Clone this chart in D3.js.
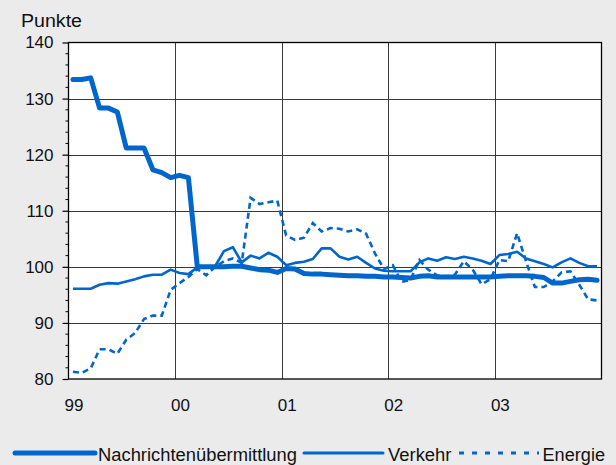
<!DOCTYPE html>
<html><head><meta charset="utf-8">
<script src="https://cdn.jsdelivr.net/npm/d3@7"></script>
<style>html,body{margin:0;padding:0;background:#ebebeb;}svg{display:block;}</style>
</head><body>
<svg id="c" width="616" height="465"></svg>
<script>
const yearLabels = ["99","00","01","02","03"];
const yTicks = [80,90,100,110,120,130,140];
const seriesNames = ["Nachrichtenübermittlung","Verkehr","Energie"];
const nachrichten = [133.4,133.4,133.7,128.3,128.3,127.6,121.2,121.2,121.2,117.3,116.8,115.9,116.3,115.9,
 100.0,100.0,100.0,100.0,100.1,100.1,99.8,99.5,99.4,99.0,99.7,99.6,98.8,98.7,98.7,98.6,
 98.5,98.4,98.4,98.3,98.3,98.2,98.2,98.1,98.0,98.3,98.4,98.2,98.2,98.2,98.2,98.2,98.2,98.2,98.3,98.4,98.4,98.4,98.3,
 98.1,97.1,97.1,97.4,97.7,97.8,97.6];
const verkehr = [96.1,96.1,96.1,96.8,97.1,97.0,97.4,97.8,98.3,98.6,98.6,99.5,98.9,98.7,
 99.9,100.0,100.1,102.8,103.5,100.8,102.0,101.5,102.5,101.8,100.3,100.7,100.9,101.4,103.3,103.3,
 101.8,101.3,101.8,100.7,99.7,99.3,99.2,99.2,99.2,100.8,101.5,101.1,101.7,101.4,101.8,101.5,101.1,100.5,
 102.1,102.3,102.7,101.5,101.0,100.5,99.9,100.8,101.5,100.7,100.1,100.1];
const energie = [81.3,81.1,81.9,85.3,85.3,84.5,87.0,88.2,90.7,91.3,91.3,95.9,97.1,98.2,
 99.6,98.5,100.0,101.0,101.5,100.7,112.3,111.2,111.5,111.8,105.6,104.8,105.2,107.8,106.3,106.9,
 106.8,106.3,106.7,105.9,102.4,99.6,100.3,97.3,97.7,101.2,99.5,98.5,98.3,98.6,101.0,99.5,96.9,97.8,
 101.2,101.0,106.0,101.0,96.4,96.4,97.4,99.0,99.2,96.8,94.2,94.0];

const blue = "#0066cc";
const font = "'Liberation Sans', Arial, sans-serif";
const svg = d3.select("#c");
const L = 68.5, R = 601.5, T = 42.5, B = 379;
const x = d3.scaleLinear().domain([0, 60]).range([L, R]);
const y = d3.scaleLinear().domain([80, 140]).range([B, T]);

svg.append("rect").attr("x", L).attr("y", T).attr("width", R - L).attr("height", B - T).attr("fill", "#fff");

// horizontal gridlines
svg.append("g").selectAll("line").data(yTicks.slice(1, -1)).join("line")
  .attr("x1", L).attr("x2", R).attr("y1", d => Math.round(y(d)) + 0.5).attr("y2", d => Math.round(y(d)) + 0.5)
  .attr("stroke", "#3a3a3a").attr("stroke-width", 1);
// vertical gridlines
svg.append("g").selectAll("line").data(yearLabels.slice(1)).join("line")
  .attr("x1", (d, i) => Math.round(x((i + 1) * 12)) + 0.5).attr("x2", (d, i) => Math.round(x((i + 1) * 12)) + 0.5)
  .attr("y1", T).attr("y2", B).attr("stroke", "#3a3a3a").attr("stroke-width", 1);

// y axis with minor ticks
const yAxis = d3.axisLeft(y).tickValues(yTicks).tickSize(6).tickPadding(9).tickFormat(d3.format("d"));
const ga = svg.append("g").attr("transform", `translate(${L},0)`).call(yAxis);
ga.select(".domain").remove();
ga.selectAll("line").attr("stroke", "#000").attr("stroke-width", 1.2);
ga.selectAll("text").attr("font-family", font).attr("font-size", 17).attr("fill", "#111");
const minor = d3.range(82, 140, 2).filter(v => v % 10 !== 0);
svg.append("g").selectAll("line").data(minor).join("line")
  .attr("x1", L - 3).attr("x2", L).attr("y1", d => y(d)).attr("y2", d => y(d))
  .attr("stroke", "#000").attr("stroke-width", 1);

// x labels
svg.append("g").selectAll("text").data(yearLabels).join("text")
  .attr("x", (d, i) => x(i * 12 + 0.5) + 1).attr("y", 411)
  .attr("text-anchor", "middle").attr("font-family", font).attr("font-size", 17).attr("fill", "#111")
  .text(d => d);

// Punkte
svg.append("text").attr("x", 21).attr("y", 27.3).attr("font-family", font).attr("font-size", 18)
  .attr("textLength", 61).attr("lengthAdjust", "spacingAndGlyphs").attr("fill", "#111").text("Punkte");

// lines
const line = d3.line().x((d, i) => x(i + 0.5)).y(d => y(d));
const plot = svg.append("g");
plot.append("path").datum(energie).attr("d", line).attr("fill", "none").attr("stroke", blue)
  .attr("stroke-width", 2.6).attr("stroke-dasharray", "6,4");
plot.append("path").datum(verkehr).attr("d", line).attr("fill", "none").attr("stroke", blue)
  .attr("stroke-width", 2.6).attr("stroke-linejoin", "round");
plot.append("path").datum(nachrichten).attr("d", line).attr("fill", "none").attr("stroke", blue)
  .attr("stroke-width", 5).attr("stroke-linejoin", "round").attr("stroke-linecap", "round");

// border
svg.append("rect").attr("x", L).attr("y", T).attr("width", R - L).attr("height", B - T)
  .attr("fill", "none").attr("stroke", "#000").attr("stroke-width", 1.3);

// legend
const leg = [
  {name: seriesNames[0], x1: 15, x2: 95, tx: 98, tl: 199, w: 5, dash: null},
  {name: seriesNames[1], x1: 304, x2: 383, tx: 388, tl: 63.5, w: 3, dash: null},
  {name: seriesNames[2], x1: 459, x2: 539, tx: 542.5, tl: 62.5, w: 3, dash: "5,8"}
];
const lg = svg.append("g");
leg.forEach(d => {
  const ln = lg.append("line").attr("x1", d.x1).attr("x2", d.x2).attr("y1", 453).attr("y2", 453)
    .attr("stroke", blue).attr("stroke-width", d.w).attr("stroke-linecap", d.dash ? "butt" : "round");
  if (d.dash) ln.attr("stroke-dasharray", d.dash);
  lg.append("text").attr("x", d.tx).attr("y", 460.7).attr("font-family", font).attr("font-size", 17.5)
    .attr("textLength", d.tl).attr("lengthAdjust", "spacingAndGlyphs").attr("fill", "#111").text(d.name);
});
</script>
</body></html>
